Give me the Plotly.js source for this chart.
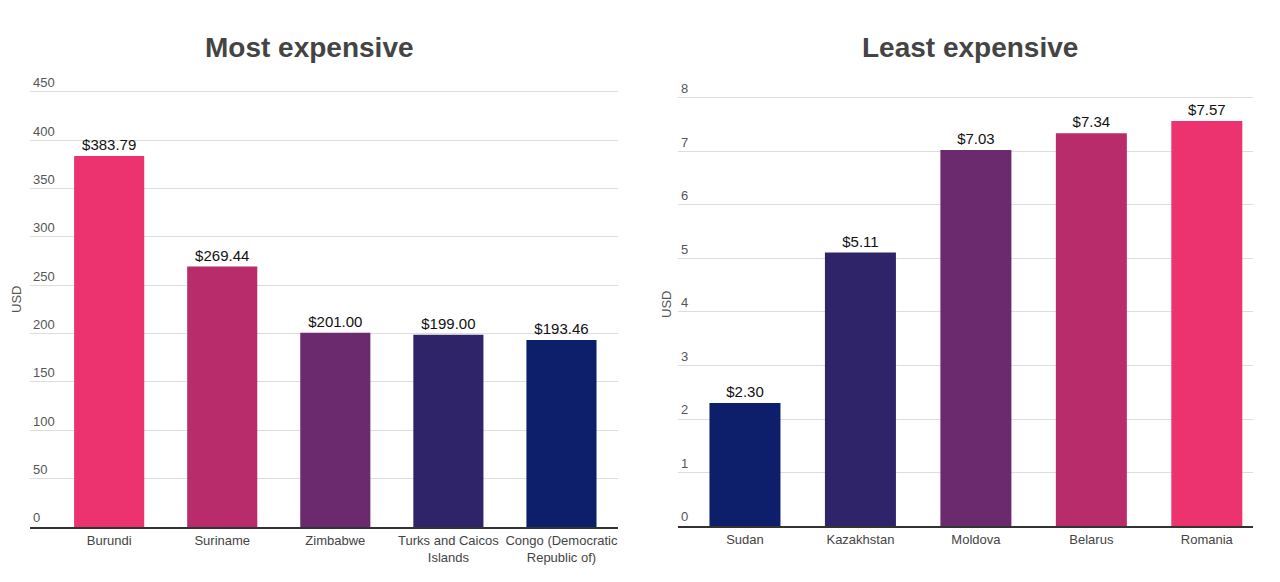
<!DOCTYPE html>
<html>
<head>
<meta charset="utf-8">
<script src="https://cdn.plot.ly/plotly-3.0.1.min.js"></script>
<style>
html,body{margin:0;padding:0;background:#fff;}
#chart{width:1280px;height:582px;}
</style>
</head>
<body>
<div id="chart"></div>
<script>
// Most expensive
const mostCountries = ["Burundi", "Suriname", "Zimbabwe", "Turks and Caicos<br>Islands", "Congo (Democratic<br>Republic of)"];
const mostValues = [383.79, 269.44, 201.00, 199.00, 193.46];
const mostColors = ["#EC336F", "#B82C6C", "#6B2A6D", "#2F2469", "#0D1F6B"];
const mostTicks = [0, 50, 100, 150, 200, 250, 300, 350, 400, 450];

// Least expensive
const leastCountries = ["Sudan", "Kazakhstan", "Moldova", "Belarus", "Romania"];
const leastValues = [2.30, 5.11, 7.03, 7.34, 7.57];
const leastColors = ["#0D1F6B", "#2F2469", "#6B2A6D", "#B82C6C", "#EC336F"];
const leastTicks = [0, 1, 2, 3, 4, 5, 6, 7, 8];

const labelFont = {family: "Liberation Sans, Arial, sans-serif", size: 15, color: "#111"};

const traces = [
  {
    type: "bar", x: mostCountries, y: mostValues, xaxis: "x", yaxis: "y",
    marker: {color: mostColors}, width: 0.62,
    text: mostValues.map(v => "$" + v.toFixed(2)), textposition: "outside",
    textfont: labelFont, cliponaxis: false, hoverinfo: "x+y"
  },
  {
    type: "bar", x: leastCountries, y: leastValues, xaxis: "x2", yaxis: "y2",
    marker: {color: leastColors}, width: 0.615,
    text: leastValues.map(v => "$" + v.toFixed(2)), textposition: "outside",
    textfont: labelFont, cliponaxis: false, hoverinfo: "x+y"
  }
];

const tickFont = {family: "Liberation Sans, Arial, sans-serif", size: 13, color: "#555"};
const xTickFont = {family: "Liberation Sans, Arial, sans-serif", size: 13, color: "#444"};

const yCommon = {
  showgrid: true, gridcolor: "#dddddd", gridwidth: 1, zeroline: false,
  showline: false, ticks: "", ticklabelposition: "inside top",
  tickfont: tickFont, fixedrange: true
};
const xCommon = {
  showgrid: false, showline: true, linecolor: "#333", linewidth: 2,
  ticks: "", tickfont: xTickFont, fixedrange: true, type: "category"
};

// left: 0 at y=527, 450 at y=92 -> 0.9667 px/unit; extend range to 470 so top label is visible
const lTop = 527 - 470 * (435 / 450);
// right: 0 at y=526, 8 at y=98 -> 53.5 px/unit; extend to 8.35
const rTop = 526 - 8.35 * (428 / 8);

const layout = {
  width: 1280, height: 582,
  margin: {l: 0, r: 0, t: 0, b: 0},
  paper_bgcolor: "#fff", plot_bgcolor: "#fff",
  showlegend: false,
  xaxis: Object.assign({}, xCommon, {domain: [30/1280, 618/1280], anchor: "y", range: [-0.7, 4.5]}),
  yaxis: Object.assign({}, yCommon, {domain: [1-527/582, 1-lTop/582], anchor: "x", range: [0, 470], tickvals: mostTicks}),
  xaxis2: Object.assign({}, xCommon, {domain: [678/1280, 1253/1280], anchor: "y2", range: [-0.58, 4.4]}),
  yaxis2: Object.assign({}, yCommon, {domain: [1-526/582, 1-rTop/582], anchor: "x2", range: [0, 8.35], tickvals: leastTicks}),
  annotations: [
    {text: "<b>Most expensive</b>", xref: "paper", yref: "paper", x: 309/1280, y: 1-47/582,
     xanchor: "center", yanchor: "middle", showarrow: false,
     font: {family: "Liberation Sans, Arial, sans-serif", size: 28, color: "#444"}},
    {text: "<b>Least expensive</b>", xref: "paper", yref: "paper", x: 970/1280, y: 1-47/582,
     xanchor: "center", yanchor: "middle", showarrow: false,
     font: {family: "Liberation Sans, Arial, sans-serif", size: 28, color: "#444"}},
    {text: "USD", xref: "paper", yref: "paper", x: 17/1280, y: 1-300/582, textangle: -90,
     xanchor: "center", yanchor: "middle", showarrow: false,
     font: {family: "Liberation Sans, Arial, sans-serif", size: 13, color: "#555"}},
    {text: "USD", xref: "paper", yref: "paper", x: 666/1280, y: 1-305/582, textangle: -90,
     xanchor: "center", yanchor: "middle", showarrow: false,
     font: {family: "Liberation Sans, Arial, sans-serif", size: 13, color: "#555"}}
  ]
};

Plotly.newPlot("chart", traces, layout, {displayModeBar: false, staticPlot: true});
</script>
</body>
</html>
